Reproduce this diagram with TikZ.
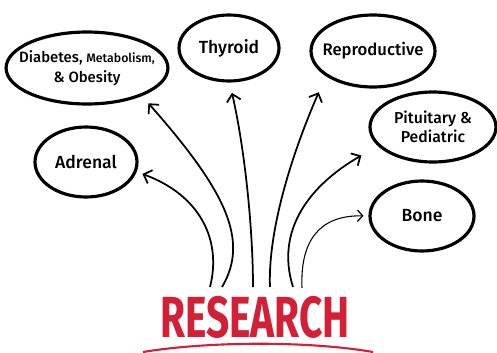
\documentclass[tikz,border=0pt]{standalone}
\usepackage{fontspec}
\setmainfont{Fira Sans}[UprightFont={* Medium}, BoldFont={* Bold}]
\usetikzlibrary{shapes.geometric,arrows.meta}
\definecolor{researchred}{RGB}{210,32,54}

\begin{document}
\begin{tikzpicture}[x=0.02cm, y=-0.02cm,
  bubble/.style = {ellipse, draw, line width=1.8pt, inner xsep=-6pt, inner ysep=0pt,
    align=center, font=\fontsize{10}{11.5}\selectfont},
  link/.style = {line width=1pt, -{Straight Barb[length=4pt,width=8pt,line width=1pt]}},
  thinlink/.style = {line width=0.6pt, -{Straight Barb[length=3pt,width=6.5pt,line width=0.7pt]}}]
  \useasboundingbox (0,0) rectangle (497,352);

  \node[bubble, minimum width=3.2cm, minimum height=1.44cm] (diabetes) at (87,68)
    {\fontsize{8.5}{10}\selectfont Diabetes, {\fontsize{7}{10}\selectfont Metabolism,}\\
     \fontsize{8.5}{10}\selectfont\& Obesity};
  \node[bubble, minimum width=2cm, minimum height=1.32cm] (thyroid) at (229,48) {Thyroid};
  \node[bubble, minimum width=2.48cm, minimum height=1.44cm,
    font=\fontsize{9.5}{11}\selectfont] (reproductive) at (373,51) {Reproductive};
  \node[bubble, minimum width=2.52cm, minimum height=1.4cm,
    font=\fontsize{9}{11}\selectfont] (pituitary) at (433,127) {Pituitary \&\\Pediatric};
  \node[bubble, minimum width=2.04cm, minimum height=1.4cm] (adrenal) at (86,162) {Adrenal};
  \node[bubble, minimum width=2.08cm, minimum height=1.4cm] (bone) at (422,216) {Bone};

  \node[text=researchred, inner sep=0pt, xscale=0.7, transform shape,
    font=\fontsize{33}{33}\selectfont\bfseries] (research) at (255,317) {RESEARCH};
  \draw[researchred, line width=1.2pt] (143,352) .. controls (210,341) and (310,341) .. (373,352);

  \coordinate (r1) at (210,287);
  \coordinate (r2) at (222,287);
  \coordinate (r3) at (253,287);
  \coordinate (r4) at (270,287);
  \coordinate (r5) at (293,287);
  \coordinate (r6) at (302,288);

  \draw[link, shorten >=3.5pt] (r1) .. controls (222,240) and (200,195) .. (adrenal.-11);
  \draw[link, shorten >=5.5pt] (r2) .. controls (250,240) and (225,190) .. (diabetes.-27);
  \draw[link, shorten >=6pt] (r3) .. controls (253,230) and (245,150) .. (thyroid.-89);
  \draw[link, shorten >=10pt] (r4) .. controls (268,240) and (285,170) .. (reproductive.-152);
  \draw[link, shorten >=10.8pt] (r5) .. controls (275,230) and (310,185) .. (pituitary.-161);
  \draw[thinlink, shorten >=2.8pt] (r6) .. controls (300,240) and (320,215) .. (bone.west);
\end{tikzpicture}
\end{document}
